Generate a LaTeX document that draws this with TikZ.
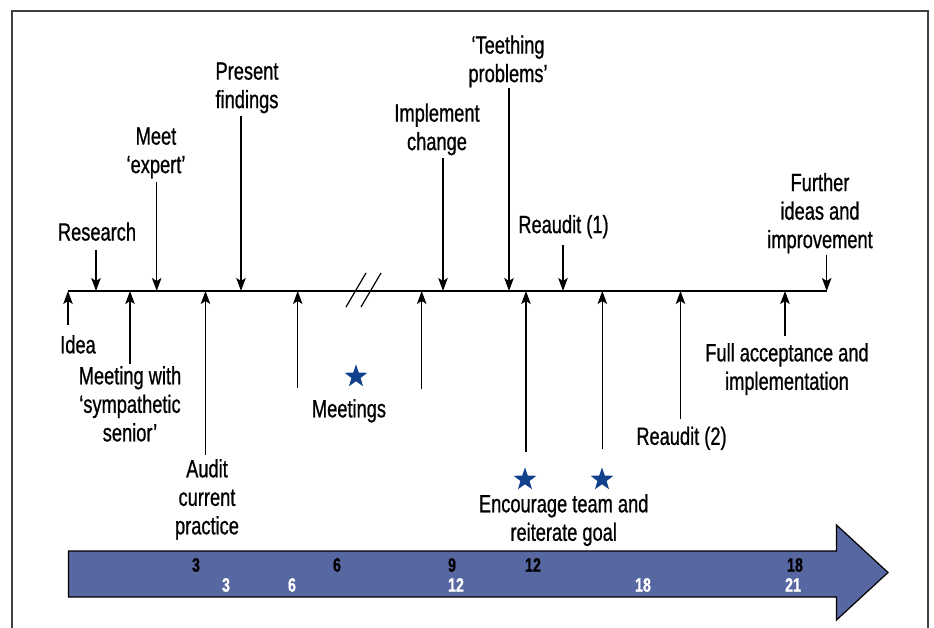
\documentclass[tikz,border=0pt]{standalone}
\usepackage{fontspec}
\setmainfont{Liberation Sans}[FakeStretch=0.73,FakeBold=0.8]
\usetikzlibrary{arrows.meta,shapes.geometric}
\definecolor{barblue}{RGB}{86,103,162}
\definecolor{starblue}{RGB}{18,64,140}
\begin{document}
\begin{tikzpicture}[x=1pt,y=-1pt,
    lbl/.style={align=center,inner sep=0pt,font=\fontsize{25}{28.5}\selectfont},
    arr/.style={-{Stealth[length=13pt,width=9.5pt,inset=3pt]},line width=1.2pt},
    starmark/.style={star,star points=5,star point ratio=2.5,minimum size=24pt,inner sep=0pt,fill=starblue},
    num/.style={anchor=base,inner sep=0pt,font=\fontsize{19.5}{19.5}\selectfont\bfseries}]
    \useasboundingbox (0,0) rectangle (934,628);
    \draw[line width=1.7pt,black!75] (12.3,628) -- (12.3,11) -- (927.7,11) -- (927.7,628);
    \draw[line width=1.2pt,fill=barblue] (68.5,551) -- (836.5,551) -- (836.5,525) -- (888,572.5) -- (836.5,620) -- (836.5,597) -- (68.5,597) -- cycle;
    \foreach \x/\n in {196/3,337/6,452/9,533/12,795/18}
        \node[num] (blk\n) at (\x,571.7) {\n};
    \foreach \x/\n in {226/3,292/6,456/12,643/18,793/21}
        \node[num,white] (wht\n) at (\x,591.7) {\n};
    \coordinate (start) at (68,291);
    \coordinate (further) at (826.7,291);
    \draw[line width=1.4pt] (start) -- (further);
    \draw[line width=1.2pt] (346,307) -- (366,273) (361,307) -- (381,273);
    \foreach \n/\x in {idea/68,research/96,sympathetic/130,expert/156.7,audit/205.5,present/241,meetA/297.7,meetB/421.7,implement/443,teething/509,encA/526,reauditA/563,encB/602.3,reauditB/680.5,full/785}
        \coordinate (\n) at (\x,291);

    \node[lbl,anchor=south] (researchL) at (97,241) {Research};
    \node[lbl,anchor=south] (expertL) at (156,178.5) {Meet\\`expert'};
    \node[lbl,anchor=south] (presentL) at (247,113.5) {Present\\findings};
    \node[lbl,anchor=south] (implementL) at (437,155.5) {Implement\\change};
    \node[lbl,anchor=south] (teethingL) at (508,87.5) {`Teething\\problems'};
    \node[lbl,anchor=south] (reauditAL) at (563.5,238.5) {Reaudit (1)};
    \node[lbl,anchor=south] (furtherL) at (820,253.5) {Further\\ideas and\\improvement};
    \draw[arr] (researchL.south -| research) ++(0,9) -- (research);
    \draw[arr] (expertL.south -| expert) ++(0,4) -- (expert);
    \draw[arr] (presentL.south -| present) ++(0,3) -- (present);
    \draw[arr] (implementL.south -| implement) ++(0,2.5) -- (implement);
    \draw[arr] (teethingL.south -| teething) ++(0,1) -- (teething);
    \draw[arr] (reauditAL.south -| reauditA) ++(0,6.5) -- (reauditA);
    \draw[arr] (furtherL.south -| further) ++(0,1.5) -- (further);

    \node[lbl,anchor=north] (ideaL) at (78,335) {Idea};
    \node[lbl,anchor=north] (sympatheticL) at (130,366) {Meeting with\\`sympathetic\\senior'};
    \node[lbl,anchor=north] (auditL) at (207,459) {Audit\\current\\practice};
    \node[lbl,anchor=north] (meetingsL) at (349,399) {Meetings};
    \node[lbl,anchor=north] (encourageL) at (563.7,494) {Encourage team and\\reiterate goal};
    \node[lbl,anchor=north] (reauditBL) at (681.5,426.5) {Reaudit (2)};
    \node[lbl,anchor=north] (fullL) at (787,343) {Full acceptance and\\implementation};
    \draw[arr] (ideaL.north -| idea) ++(0,-10) -- (idea);
    \draw[arr] (sympatheticL.north -| sympathetic) ++(0,-2) -- (sympathetic);
    \draw[arr] (auditL.north -| audit) ++(0,-4) -- (audit);
    \draw[arr] (reauditBL.north -| reauditB) ++(0,-7.5) -- (reauditB);
    \draw[arr] (fullL.north -| full) ++(0,-7) -- (full);

    \coordinate (meetAtail) at (297.7,388);
    \coordinate (meetBtail) at (421.7,389);
    \coordinate (encAtail) at (526,452);
    \coordinate (encBtail) at (602.3,449);
    \draw[arr] (meetAtail) -- (meetA);
    \draw[arr] (meetBtail) -- (meetB);
    \draw[arr] (encAtail) -- (encA);
    \draw[arr] (encBtail) -- (encB);
    \node[starmark] (meetStar) at (356,376.5) {};
    \node[starmark] (encStarA) at (525,479.5) {};
    \node[starmark] (encStarB) at (602,479.5) {};
\end{tikzpicture}
\end{document}
